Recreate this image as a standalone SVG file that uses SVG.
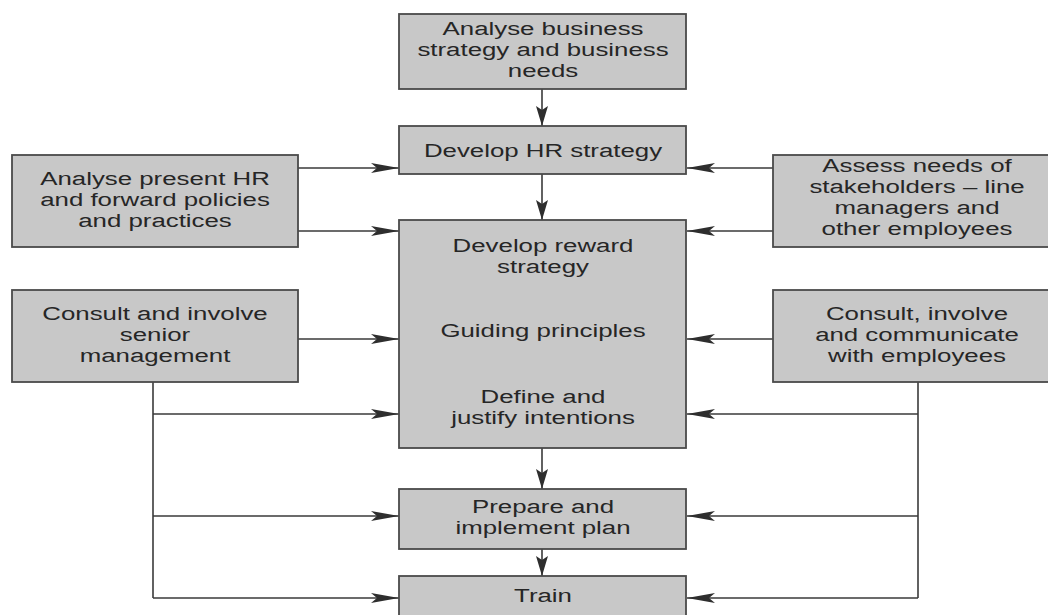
<svg xmlns="http://www.w3.org/2000/svg" width="1048" height="615" viewBox="0 0 1048 615">
<defs>
<style>
.box{fill:#c8c8c8;stroke:#4a4a4a;stroke-width:1.8}
.t{font-family:"Liberation Sans",Arial,sans-serif;font-size:19px;fill:#262626;text-anchor:middle}
.ln{fill:none;stroke:#3a3a3a;stroke-width:1.6}
.h{marker-end:url(#ah)}
.v{marker-end:url(#av)}
</style>
<marker id="ah" markerUnits="userSpaceOnUse" markerWidth="30" markerHeight="12" refX="28" refY="5" orient="auto" overflow="visible">
<path d="M0,0 L28,5 L0,10 L6,5 Z" fill="#2e2e2e"/>
</marker>
<marker id="av" markerUnits="userSpaceOnUse" markerWidth="22" markerHeight="14" refX="20" refY="6" orient="auto" overflow="visible">
<path d="M0,0 L20,6 L0,12 L4,6 Z" fill="#2e2e2e"/>
</marker>
</defs>
<rect width="1048" height="615" fill="#ffffff"/>

<g id="connectors">
<path class="ln v" d="M542,89 V126"/>
<path class="ln v" d="M542,174 V220"/>
<path class="ln v" d="M542,448 V489"/>
<path class="ln v" d="M542,549 V576"/>
<path class="ln h" d="M298,168 H399"/>
<path class="ln h" d="M298,231 H399"/>
<path class="ln h" d="M298,339 H399"/>
<path class="ln h" d="M773,168 H687"/>
<path class="ln h" d="M773,231 H687"/>
<path class="ln h" d="M773,339 H687"/>
<path class="ln" d="M153,382 V598"/>
<path class="ln h" d="M153,414 H399"/>
<path class="ln h" d="M153,516 H399"/>
<path class="ln h" d="M153,598 H399"/>
<path class="ln" d="M918,382 V598"/>
<path class="ln h" d="M918,414 H687"/>
<path class="ln h" d="M918,516 H687"/>
<path class="ln h" d="M918,598 H687"/>
</g>

<g id="analyse-business">
<rect class="box" x="399" y="14" width="287" height="75"/>
<g transform="translate(543 0) scale(1.36 1)">
<text class="t" x="0" y="35">Analyse business</text>
<text class="t" x="0" y="56">strategy and business</text>
<text class="t" x="0" y="77">needs</text>
</g>
</g>

<g id="develop-hr">
<rect class="box" x="399" y="126" width="287" height="48"/>
<g transform="translate(543 0) scale(1.36 1)">
<text class="t" x="0" y="157">Develop HR strategy</text>
</g>
</g>

<g id="analyse-present">
<rect class="box" x="12" y="155" width="286" height="92"/>
<g transform="translate(155 0) scale(1.36 1)">
<text class="t" x="0" y="185">Analyse present HR</text>
<text class="t" x="0" y="206">and forward policies</text>
<text class="t" x="0" y="227">and practices</text>
</g>
</g>

<g id="assess-needs">
<rect class="box" x="773" y="155" width="290" height="92"/>
<g transform="translate(917 0) scale(1.36 1)">
<text class="t" x="0" y="172">Assess needs of</text>
<text class="t" x="0" y="193">stakeholders – line</text>
<text class="t" x="0" y="214">managers and</text>
<text class="t" x="0" y="235">other employees</text>
</g>
</g>

<g id="consult-senior">
<rect class="box" x="12" y="290" width="286" height="92"/>
<g transform="translate(155 0) scale(1.36 1)">
<text class="t" x="0" y="320">Consult and involve</text>
<text class="t" x="0" y="341">senior</text>
<text class="t" x="0" y="362">management</text>
</g>
</g>

<g id="consult-employees">
<rect class="box" x="773" y="290" width="290" height="92"/>
<g transform="translate(917 0) scale(1.36 1)">
<text class="t" x="0" y="320">Consult, involve</text>
<text class="t" x="0" y="341">and communicate</text>
<text class="t" x="0" y="362">with employees</text>
</g>
</g>

<g id="reward-strategy">
<rect class="box" x="399" y="220" width="287" height="228"/>
<g transform="translate(543 0) scale(1.36 1)">
<text class="t" x="0" y="252">Develop reward</text>
<text class="t" x="0" y="273">strategy</text>
<text class="t" x="0" y="337">Guiding principles</text>
<text class="t" x="0" y="403">Define and</text>
<text class="t" x="0" y="424">justify intentions</text>
</g>
</g>

<g id="prepare-plan">
<rect class="box" x="399" y="489" width="287" height="60"/>
<g transform="translate(543 0) scale(1.36 1)">
<text class="t" x="0" y="513">Prepare and</text>
<text class="t" x="0" y="534">implement plan</text>
</g>
</g>

<g id="train">
<rect class="box" x="399" y="576" width="287" height="50"/>
<g transform="translate(543 0) scale(1.36 1)">
<text class="t" x="0" y="602">Train</text>
</g>
</g>
</svg>
